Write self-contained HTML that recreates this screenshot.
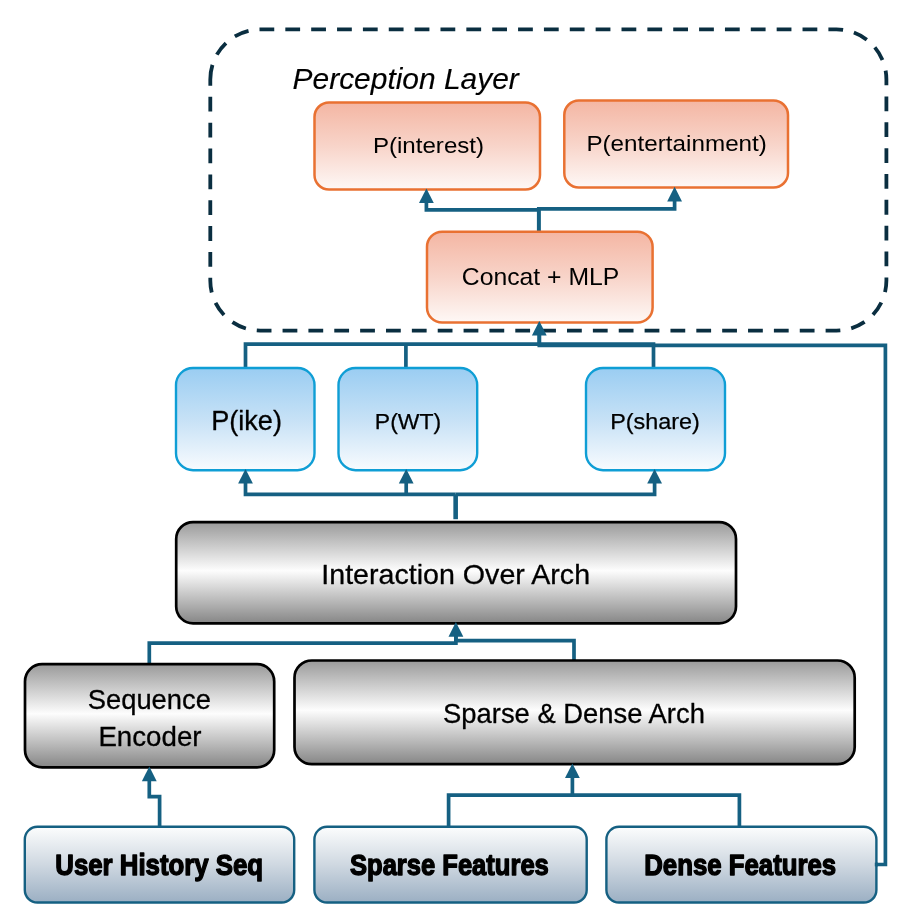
<!DOCTYPE html>
<html lang="en">
<head>
<meta charset="utf-8">
<title>Perception Layer architecture</title>
<style>
html, body { margin: 0; padding: 0; background: #ffffff; }
body { width: 912px; height: 915px; overflow: hidden; }
svg { display: block; will-change: transform; }
svg text { font-family: "Liberation Sans", sans-serif; }
</style>
</head>
<body>
<svg width="912" height="915" viewBox="0 0 912 915">
<rect x="0" y="0" width="912" height="915" fill="#ffffff"/>
<defs>
<linearGradient id="gO" x1="0" y1="0" x2="0" y2="1">
<stop offset="0" stop-color="#F4B6A3"/><stop offset="0.5" stop-color="#F8D4C9"/><stop offset="1" stop-color="#FEF8F6"/>
</linearGradient>
<linearGradient id="gB" x1="0" y1="0" x2="0" y2="1">
<stop offset="0" stop-color="#9ACDF2"/><stop offset="0.5" stop-color="#C6E1F6"/><stop offset="1" stop-color="#F8FBFE"/>
</linearGradient>
<linearGradient id="gG" x1="0" y1="0" x2="0" y2="1">
<stop offset="0" stop-color="#9A9A9A"/><stop offset="0.48" stop-color="#FDFDFD"/><stop offset="1" stop-color="#868686"/>
</linearGradient>
<linearGradient id="gS" x1="0" y1="0" x2="0" y2="1">
<stop offset="0" stop-color="#FCFDFD"/><stop offset="0.5" stop-color="#CFD8E1"/><stop offset="1" stop-color="#9BAFC3"/>
</linearGradient>
</defs>
<path d="M210.3,79.4 A50,50 0 0 1 260.3,29.4 H836.4 A50,50 0 0 1 886.4,79.4 V280.6 A50,50 0 0 1 836.4,330.6 H260.3 A50,50 0 0 1 210.3,280.6 Z" fill="none" stroke="#0A2E40" stroke-width="3.8" stroke-dasharray="14.78 11.08"/>
<path d="M876,864.5 H885.4 V345.3 H539.3 V334" fill="none" stroke="#156082" stroke-width="3.7" stroke-linejoin="miter" stroke-linecap="butt"/>
<path d="M245.5,369 V344.1 H539.3 V334" fill="none" stroke="#156082" stroke-width="3.7" stroke-linejoin="miter" stroke-linecap="butt"/>
<path d="M405.9,369 V344.1" fill="none" stroke="#156082" stroke-width="3.7" stroke-linejoin="miter" stroke-linecap="butt"/>
<path d="M653.5,369 V344.1 H539.3" fill="none" stroke="#156082" stroke-width="3.7" stroke-linejoin="miter" stroke-linecap="butt"/>
<path d="M538.8,233 V209.9 H426.4 V201" fill="none" stroke="#156082" stroke-width="3.7" stroke-linejoin="miter" stroke-linecap="butt"/>
<path d="M538.8,233 V208.9 H674.6 V199" fill="none" stroke="#156082" stroke-width="3.7" stroke-linejoin="miter" stroke-linecap="butt"/>
<path d="M455.65,519.2 V494.3" fill="none" stroke="#156082" stroke-width="4.6" stroke-linejoin="miter" stroke-linecap="butt"/>
<path d="M455.6,494.3 H245.5 V482" fill="none" stroke="#156082" stroke-width="3.7" stroke-linejoin="miter" stroke-linecap="butt"/>
<path d="M455.6,494.3 H654.6 V482" fill="none" stroke="#156082" stroke-width="3.7" stroke-linejoin="miter" stroke-linecap="butt"/>
<path d="M406.2,494.3 V482" fill="none" stroke="#156082" stroke-width="3.7" stroke-linejoin="miter" stroke-linecap="butt"/>
<path d="M149.3,665 V643.1 H455.9 V635" fill="none" stroke="#156082" stroke-width="3.7" stroke-linejoin="miter" stroke-linecap="butt"/>
<path d="M574,662 V640.6 H455.9 V635" fill="none" stroke="#156082" stroke-width="3.7" stroke-linejoin="miter" stroke-linecap="butt"/>
<path d="M159.6,828 V796.6 H149.3 V779" fill="none" stroke="#156082" stroke-width="3.7" stroke-linejoin="miter" stroke-linecap="butt"/>
<path d="M448.6,828 V795.1 H739.4 V828" fill="none" stroke="#156082" stroke-width="3.7" stroke-linejoin="miter" stroke-linecap="butt"/>
<path d="M572.4,795.1 V776" fill="none" stroke="#156082" stroke-width="3.7" stroke-linejoin="miter" stroke-linecap="butt"/>
<rect x="314.50" y="102.50" width="225.50" height="87.00" rx="14.50" ry="14.50" fill="url(#gO)" stroke="#E97132" stroke-width="2.5"/>
<rect x="564.30" y="100.50" width="223.70" height="87.00" rx="14.50" ry="14.50" fill="url(#gO)" stroke="#E97132" stroke-width="2.5"/>
<rect x="427.00" y="231.80" width="225.60" height="90.80" rx="15.13" ry="15.13" fill="url(#gO)" stroke="#E97132" stroke-width="2.5"/>
<rect x="176.00" y="368.00" width="138.50" height="102.20" rx="17.03" ry="17.03" fill="url(#gB)" stroke="#0F9ED5" stroke-width="2.4"/>
<rect x="338.50" y="368.00" width="138.70" height="102.20" rx="17.03" ry="17.03" fill="url(#gB)" stroke="#0F9ED5" stroke-width="2.4"/>
<rect x="586.00" y="368.00" width="139.00" height="102.20" rx="17.03" ry="17.03" fill="url(#gB)" stroke="#0F9ED5" stroke-width="2.4"/>
<rect x="176.20" y="522.10" width="559.80" height="101.20" rx="16.87" ry="16.87" fill="url(#gG)" stroke="#000" stroke-width="2.7"/>
<rect x="25.00" y="664.20" width="249.20" height="103.10" rx="17.18" ry="17.18" fill="url(#gG)" stroke="#000" stroke-width="2.7"/>
<rect x="294.50" y="660.50" width="560.20" height="103.70" rx="17.28" ry="17.28" fill="url(#gG)" stroke="#000" stroke-width="2.7"/>
<rect x="24.80" y="826.80" width="269.40" height="75.70" rx="12.62" ry="12.62" fill="url(#gS)" stroke="#156082" stroke-width="2.4"/>
<rect x="314.40" y="826.80" width="272.30" height="75.70" rx="12.62" ry="12.62" fill="url(#gS)" stroke="#156082" stroke-width="2.4"/>
<rect x="606.40" y="826.80" width="270.00" height="75.70" rx="12.62" ry="12.62" fill="url(#gS)" stroke="#156082" stroke-width="2.4"/>
<path d="M874.8,864.5 H878" fill="none" stroke="#156082" stroke-width="3.7" stroke-linejoin="miter" stroke-linecap="butt"/>
<path d="M539.30,321.00 L546.70,335.60 L531.90,335.60 Z" fill="#156082"/>
<path d="M426.40,188.50 L433.80,203.10 L419.00,203.10 Z" fill="#156082"/>
<path d="M674.60,186.80 L682.00,201.40 L667.20,201.40 Z" fill="#156082"/>
<path d="M245.50,469.00 L252.90,483.60 L238.10,483.60 Z" fill="#156082"/>
<path d="M406.20,469.00 L413.60,483.60 L398.80,483.60 Z" fill="#156082"/>
<path d="M654.60,469.00 L662.00,483.60 L647.20,483.60 Z" fill="#156082"/>
<path d="M455.90,622.10 L463.30,636.70 L448.50,636.70 Z" fill="#156082"/>
<path d="M149.30,766.60 L156.70,781.20 L141.90,781.20 Z" fill="#156082"/>
<path d="M572.40,763.50 L579.80,778.10 L565.00,778.10 Z" fill="#156082"/>
<text x="292.60" y="88.70" font-size="29.6" font-weight="normal" font-style="italic" fill="#000" stroke="#000" stroke-width="0.15" stroke-linejoin="round" textLength="226.20" lengthAdjust="spacingAndGlyphs">Perception Layer</text>
<text x="372.90" y="152.80" font-size="22.2" font-weight="normal" font-style="normal" fill="#000" textLength="111.20" lengthAdjust="spacingAndGlyphs">P(interest)</text>
<text x="586.40" y="150.90" font-size="22.2" font-weight="normal" font-style="normal" fill="#000" textLength="180.50" lengthAdjust="spacingAndGlyphs">P(entertainment)</text>
<text x="461.80" y="284.60" font-size="24.4" font-weight="normal" font-style="normal" fill="#000" textLength="157.50" lengthAdjust="spacingAndGlyphs">Concat + MLP</text>
<text x="211.20" y="430.20" font-size="27.7" font-weight="normal" font-style="normal" fill="#000" stroke="#000" stroke-width="0.3" stroke-linejoin="round" textLength="70.80" lengthAdjust="spacingAndGlyphs">P(ike)</text>
<text x="374.80" y="429.20" font-size="21.8" font-weight="normal" font-style="normal" fill="#000" stroke="#000" stroke-width="0.25" stroke-linejoin="round" textLength="66.40" lengthAdjust="spacingAndGlyphs">P(WT)</text>
<text x="610.20" y="429.20" font-size="21.8" font-weight="normal" font-style="normal" fill="#000" stroke="#000" stroke-width="0.25" stroke-linejoin="round" textLength="89.70" lengthAdjust="spacingAndGlyphs">P(share)</text>
<text x="321.30" y="584.00" font-size="27.8" font-weight="normal" font-style="normal" fill="#000" stroke="#000" stroke-width="0.3" stroke-linejoin="round" textLength="268.80" lengthAdjust="spacingAndGlyphs">Interaction Over Arch</text>
<text x="87.80" y="708.90" font-size="28.1" font-weight="normal" font-style="normal" fill="#000" stroke="#000" stroke-width="0.3" stroke-linejoin="round" textLength="123.10" lengthAdjust="spacingAndGlyphs">Sequence</text>
<text x="98.40" y="745.60" font-size="28.1" font-weight="normal" font-style="normal" fill="#000" stroke="#000" stroke-width="0.3" stroke-linejoin="round" textLength="103.10" lengthAdjust="spacingAndGlyphs">Encoder</text>
<text x="443.10" y="723.10" font-size="27.8" font-weight="normal" font-style="normal" fill="#000" stroke="#000" stroke-width="0.3" stroke-linejoin="round" textLength="261.80" lengthAdjust="spacingAndGlyphs">Sparse &amp; Dense Arch</text>
<text x="55.30" y="875.30" font-size="30" font-weight="bold" font-style="normal" fill="#000" stroke="#000" stroke-width="1.4" stroke-linejoin="round" textLength="207.80" lengthAdjust="spacingAndGlyphs">User History Seq</text>
<text x="350.00" y="875.30" font-size="30" font-weight="bold" font-style="normal" fill="#000" stroke="#000" stroke-width="1.4" stroke-linejoin="round" textLength="198.80" lengthAdjust="spacingAndGlyphs">Sparse Features</text>
<text x="644.20" y="875.30" font-size="30" font-weight="bold" font-style="normal" fill="#000" stroke="#000" stroke-width="1.4" stroke-linejoin="round" textLength="192.00" lengthAdjust="spacingAndGlyphs">Dense Features</text>
</svg>
</body>
</html>
